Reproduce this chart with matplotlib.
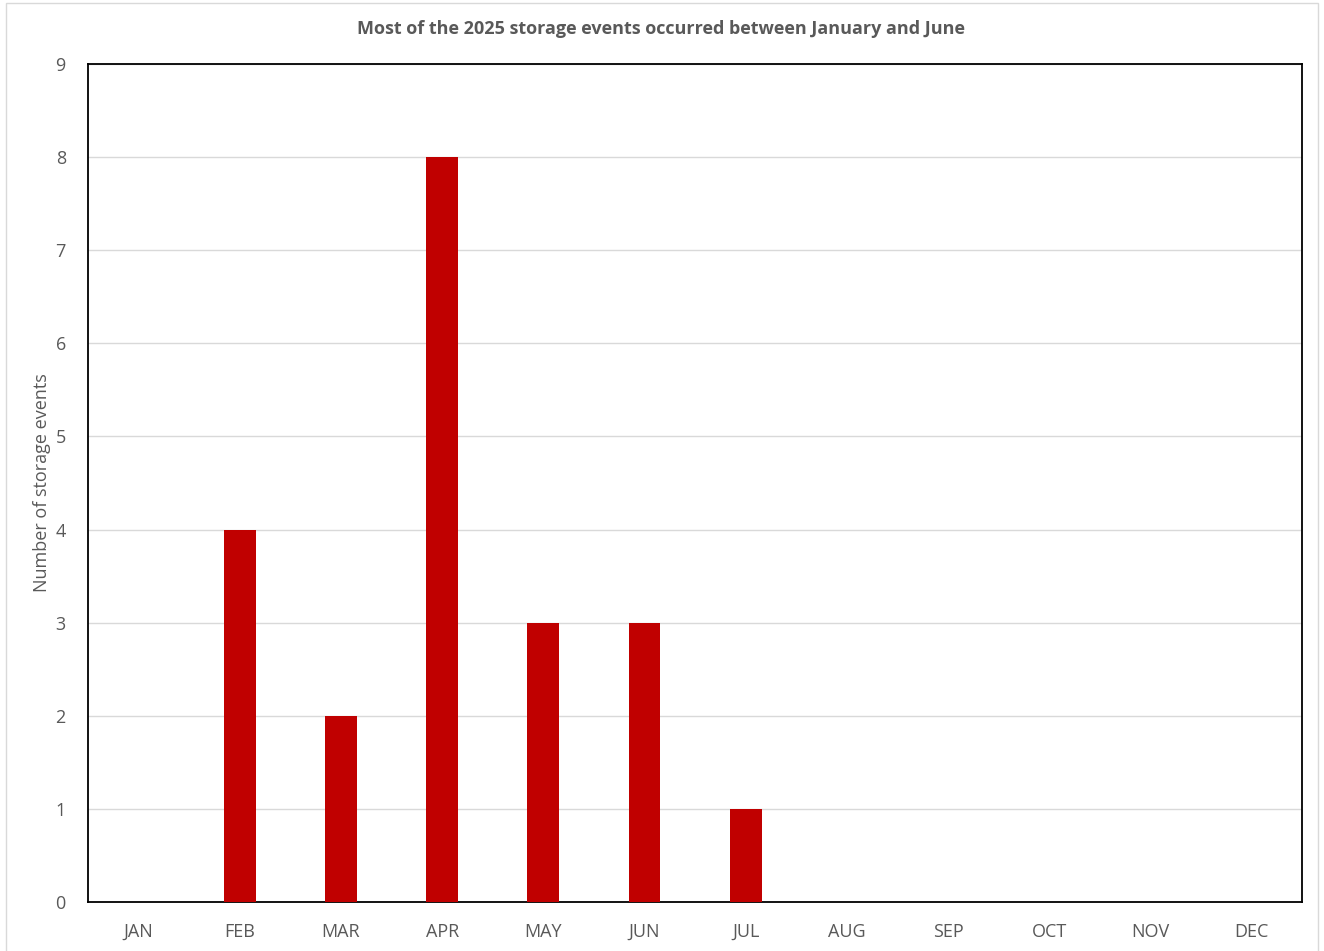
import matplotlib.pyplot as plt
import numpy as np
from matplotlib.patches import Rectangle

months = ["JAN", "FEB", "MAR", "APR", "MAY", "JUN", "JUL", "AUG", "SEP", "OCT", "NOV", "DEC"]
events = [0, 4, 2, 8, 3, 3, 1, 0, 0, 0, 0, 0]

plt.rcParams["font.family"] = ["Open Sans", "DejaVu Sans"]

fig = plt.figure(figsize=(13.24, 9.51), dpi=100)
ax = fig.add_axes([0.0665, 0.0515, 0.917, 0.8812])

x = np.arange(len(months))
ax.bar(x, events, width=0.316, color="#C00000", zorder=3)

ax.set_xlim(-0.5, len(months) - 0.5)
ax.set_ylim(0, 9)
ax.set_yticks(range(10))
ax.set_xticks(x)
ax.set_xticklabels(months)
ax.yaxis.grid(True, color="#d9d9d9", linewidth=1, zorder=0)
ax.tick_params(length=0, labelsize=13, colors="#595959")
ax.tick_params(axis="x", pad=15)
ax.tick_params(axis="y", pad=16)
for s in ax.spines.values():
    s.set_color("black")
    s.set_linewidth(1.3)

ax.set_ylabel("Number of storage events", fontsize=13, color="#595959", labelpad=3)
fig.text(0.4995, 0.970, "Most of the 2025 storage events occurred between January and June",
         ha="center", va="center", fontsize=13.0, fontweight="bold", color="#595959")

# light outer frame around the chart area
fig.patches.append(Rectangle((6 / 1324, -0.01), 1312 / 1324, 1.0 - 3 / 951 + 0.01,
                             transform=fig.transFigure, fill=False,
                             edgecolor="#d9d9d9", linewidth=1))

fig.savefig("out.png", dpi=100)
